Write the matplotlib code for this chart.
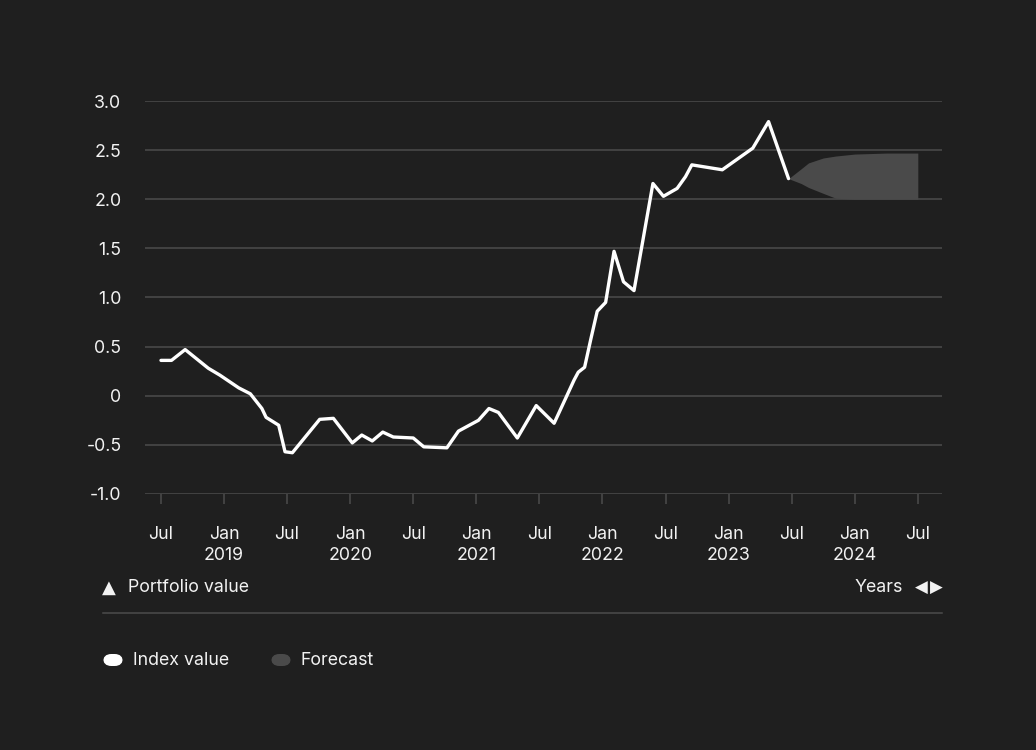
import matplotlib
matplotlib.use('Agg')
from matplotlib import pyplot as plt
from matplotlib.patches import FancyBboxPatch

plt.rcParams['font.family'] = ['Inter', 'DejaVu Sans']

# months counted from Jul 2018
idx_month = [0, 1.0, 2.3, 4.5, 5.6, 7.4, 8.5, 9.6, 10.0, 11.2, 11.8, 12.5, 15.1, 16.4,
             18.2, 19.1, 20.1, 21.1, 22.1, 24.0, 25.0, 27.2, 28.3, 30.2, 31.2, 32.1,
             33.9, 35.7, 37.4, 39.3, 39.7, 40.3, 40.9, 41.5, 42.3, 43.1, 44.0, 45.0,
             46.8, 47.8, 49.1, 49.9, 50.5, 53.4, 56.3, 57.8, 59.7]
idx_value = [0.36, 0.36, 0.47, 0.28, 0.21, 0.08, 0.02, -0.13, -0.22, -0.30, -0.57, -0.58,
             -0.24, -0.23, -0.48, -0.40, -0.46, -0.37, -0.42, -0.43, -0.52, -0.53, -0.36,
             -0.25, -0.13, -0.17, -0.43, -0.10, -0.28, 0.16, 0.24, 0.29, 0.58, 0.86, 0.95,
             1.47, 1.16, 1.07, 2.16, 2.03, 2.11, 2.23, 2.35, 2.30, 2.52, 2.79, 2.21]

fc_month = [59.7, 60.9, 61.6, 63.0, 64.2, 66.0, 69.0, 72.0]
fc_upper = [2.21, 2.31, 2.37, 2.42, 2.44, 2.46, 2.47, 2.47]
fc_lower = [2.21, 2.16, 2.12, 2.06, 2.01, 2.00, 2.00, 2.00]

tick_month = [0, 6, 12, 18, 24, 30, 36, 42, 48, 54, 60, 66, 72]
tick_label = ['Jul', 'Jan\n2019', 'Jul', 'Jan\n2020', 'Jul', 'Jan\n2021', 'Jul',
              'Jan\n2022', 'Jul', 'Jan\n2023', 'Jul', 'Jan\n2024', 'Jul']
y_ticks = [3.0, 2.5, 2.0, 1.5, 1.0, 0.5, 0, -0.5, -1.0]
y_labels = ['3.0', '2.5', '2.0', '1.5', '1.0', '0.5', '0', '-0.5', '-1.0']

bg = '#1f1f1f'
grid = '#4c4c4c'
fg = '#f2f2f2'
fc_col = '#4a4a4a'
fs = 12.8

fig = plt.figure(figsize=(10.36, 7.5), dpi=100, facecolor=bg)
ax = fig.add_axes([145/1036, 1-494/750, (942-145)/1036, (494-101)/750], facecolor=bg)

for yv in y_ticks:
    ax.axhline(yv, color=grid, lw=1.1, zorder=1)

ax.fill_between(fc_month, fc_lower, fc_upper, color=fc_col, lw=0, zorder=2)
ax.plot(idx_month, idx_value, color='white', lw=2.4, solid_joinstyle='round',
        solid_capstyle='round', zorder=3)

ax.set_xlim(-1.52, 74.3)
ax.set_ylim(-1.0, 3.0)
ax.set_yticks(y_ticks)
ax.set_yticklabels(y_labels)
ax.set_xticks(tick_month)
ax.set_xticklabels(tick_label, linespacing=1.3)
for s in ax.spines.values():
    s.set_visible(False)
ax.tick_params(axis='y', length=0, pad=17, labelcolor=fg, labelsize=fs)
ax.tick_params(axis='x', length=7, width=1.1, color=grid, pad=16, labelcolor=fg,
               labelsize=fs)

# footer
fy = 1 - 588/750
fig.text(102/1036, fy, '\u25B2', color=fg, fontsize=13, va='center', ha='left',
         family=['DejaVu Sans'])
fig.text(128/1036, fy, 'Portfolio value', color=fg, fontsize=fs, va='center', ha='left')
fig.text(921/1036, fy, '\u25C0', color=fg, fontsize=12, va='center', ha='center',
         family=['DejaVu Sans'])
fig.text(936/1036, fy, '\u25B6', color=fg, fontsize=12, va='center', ha='center',
         family=['DejaVu Sans'])
fig.text(903/1036, fy, 'Years', color=fg, fontsize=fs, va='center', ha='right')
fig.add_artist(plt.Line2D([103/1036, 942/1036], [1-613/750, 1-613/750], color=grid,
                          lw=1.1, transform=fig.transFigure))

# legend
for x0, col, lab in [(103, 'white', 'Index value'), (271, fc_col, 'Forecast')]:
    fig.add_artist(FancyBboxPatch((x0/1036, (750-666)/750), 20/1036, 12/750,
                                  boxstyle='round,pad=0,rounding_size=0.008',
                                  transform=fig.transFigure, color=col, lw=0,
                                  mutation_aspect=1036/750))
    fig.text((x0 + 30)/1036, 1-660.5/750, lab, color=fg, fontsize=fs, va='center',
             ha='left')

fig.savefig('out.png', dpi=100, facecolor=bg)
